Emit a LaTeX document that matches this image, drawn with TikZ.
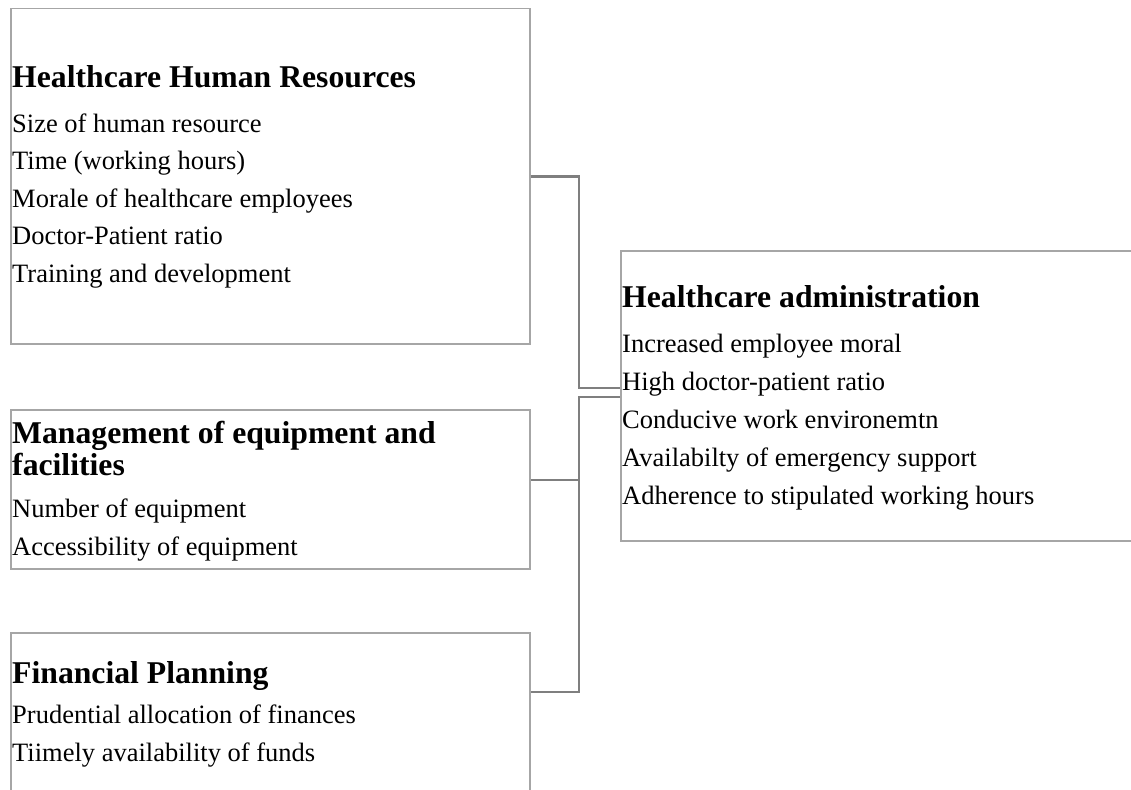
\documentclass[tikz,border=0pt]{standalone}
\usepackage{fontspec}
\setmainfont{Liberation Serif}

\definecolor{boxgray}{HTML}{A6A6A6}
\definecolor{linkgray}{HTML}{7F7F7F}

\tikzset{
  box/.style={draw=boxgray, line width=1.5pt, rectangle, anchor=north west, inner sep=0pt},
  head/.style={font=\fontsize{31.7}{32}\selectfont\bfseries, anchor=base west, inner sep=0pt, align=left},
  item/.style={font=\fontsize{26.5}{38}\selectfont, anchor=base west, inner sep=0pt},
  link/.style={draw=linkgray, line width=2.5pt},
}

\begin{document}
\begin{tikzpicture}[x=1pt, y=-1pt]
    \useasboundingbox (0,0) rectangle (1131,789);
    \clip (0,0) rectangle (1131,789);

    % the three input boxes and the outcome box
    \node[box, minimum width=519pt, minimum height=335pt] (hr) at (10,8) {};
    \node[box, minimum width=519pt, minimum height=159pt] (mef) at (10,409) {};
    \node[box, minimum width=519pt, minimum height=180pt] (fin) at (10,632) {};
    \node[box, minimum width=530pt, minimum height=290pt] (admin) at (620,250) {};

    % headings (base is the last line)
    \node[head] (hrT) at (12,88) {Healthcare Human Resources};
    \node[head] (mefT) at (12,475) {Management of equipment and\\facilities};
    \node[head] (finT) at (12,683) {Financial Planning};
    \node[head] (adminT) at (622,307) {Healthcare administration};

    % items
    \foreach \t [count=\i] in {Size of human resource, Time (working hours),
        Morale of healthcare employees, Doctor-Patient ratio, Training and development}
      \node[item] (hr\i) at (12,94.5+37.5*\i) {\t};
    \foreach \t [count=\i] in {Number of equipment, Accessibility of equipment}
      \node[item] (mef\i) at (12,479+38*\i) {\t};
    \foreach \t [count=\i] in {Prudential allocation of finances, Tiimely availability of funds}
      \node[item] (fin\i) at (12,685+38*\i) {\t};
    \foreach \t [count=\i] in {Increased employee moral, High doctor-patient ratio,
        Conducive work environemtn, Availabilty of emergency support,
        Adherence to stipulated working hours}
      \node[item] (admin\i) at (622,314+38*\i) {\t};

    % connectors
    \coordinate (j1) at (579,388);
    \coordinate (j2) at (579,397);
    \coordinate (j3) at (579,692);
    \coordinate (j4) at (579,480);
    \draw[link] (hr.east) -| (j1) -- (admin.west |- j1);
    \draw[link] (admin.west |- j2) -- (j2) -- (j3) -- (fin.east |- j3);
    \draw[link] (mef.east |- j4) -- (j4);
\end{tikzpicture}
\end{document}
